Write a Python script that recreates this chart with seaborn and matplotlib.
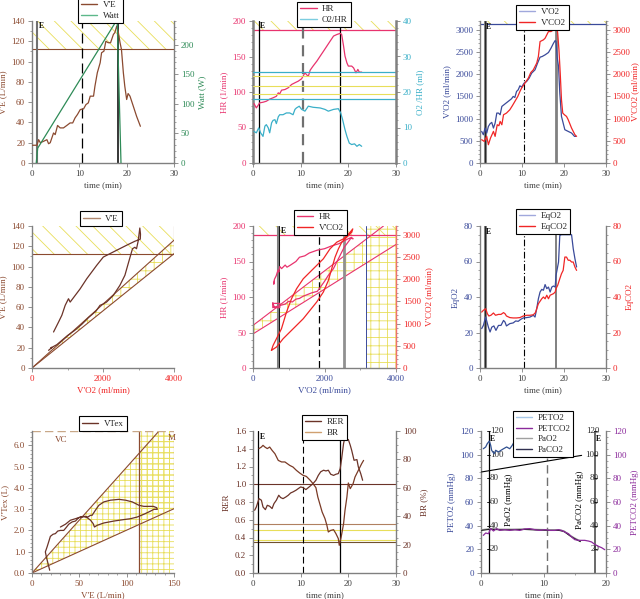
import matplotlib
matplotlib.use("Agg")
import matplotlib.pyplot as plt
import seaborn as sns
from matplotlib.lines import Line2D
from matplotlib.ticker import MultipleLocator, FormatStrFormatter

# ---------------- data ----------------
# Panel 1: V'E and Watt vs time
p1_time = [0.1, 1.05, 1.4, 1.75, 2.45, 3.15, 3.5, 3.85, 4.55, 4.9, 5.4, 5.95, 6.65, 7.35, 8.05, 8.6, 9.1, 9.6,
           10.2, 10.9, 11.4, 11.9, 12.3, 13.0, 13.3, 13.8, 14.4, 14.7, 15.2, 15.6, 16.1, 16.6, 17.2, 17.5,
           17.9, 18.2, 18.6, 18.9, 19.3, 19.6, 20.0, 20.3, 20.7, 21.4, 22.1, 22.9]
p1_ve = [17.5, 17.5, 23, 20, 21.4, 23, 19, 20, 29.6, 28, 37, 34.6, 34.6, 37, 39.5, 39.5, 44.5, 47.8,
         52.7, 53.4, 57.6, 59.3, 65.9, 65.9, 75.8, 89, 98.8, 108.7, 110.3, 120, 118.6, 118.6, 126.8, 128.5,
         135, 130, 118.6, 112, 89, 75.8, 62.6, 68.5, 65.9, 56, 46, 36.2]
watt_time = [0.9, 1.2, 17.8, 18.0, 18.8]
watt = [0, 25, 240, 240, 0]

# Panel 2: HR and O2/HR vs time
p2_time = [0.2, 0.7, 1.05, 1.4, 2.1, 2.8, 3.5, 4.2, 4.9, 5.3, 5.6, 6.0, 6.7, 7.4, 8.1, 8.8, 9.5, 10.2, 10.9,
           11.2, 11.6, 12.0, 12.6, 13.4, 14.1, 14.8, 15.5, 16.2, 16.9, 17.6, 18.3, 18.6, 19.0, 19.3, 19.7,
           20.0, 20.7, 21.1, 21.6, 22.0, 22.3, 22.8]
p2_hr = [83.8, 77.6, 81, 84.7, 85.6, 87, 90, 91.8, 94, 98.8, 97.4, 102.6, 103.5, 106, 110.6, 113, 115.3, 118.6,
         127, 124.7, 122, 130.8, 136.5, 143.5, 150.6, 157.6, 164.7, 171.8, 178.8, 181, 182.6, 181, 164.7,
         150.6, 141, 136.5, 136.5, 134, 127, 131.8, 128, 128]
o2hr_time = [0.2, 0.7, 1.2, 1.6, 2.1, 2.5, 2.8, 3.2, 3.5, 3.9, 4.2, 4.6, 4.9, 5.3, 5.6, 6.3, 7.0, 7.7, 8.4,
             8.8, 9.1, 9.7, 10.2, 10.9, 11.6, 12.6, 14.1, 15.1, 15.8, 16.9, 17.9, 18.4, 18.8, 19.3, 19.7,
             20.2, 20.7, 21.3, 21.8, 22.3, 22.8]
o2hr = [8.9, 8.5, 9.9, 8.5, 7.5, 10.4, 10.8, 9.9, 8.5, 11.3, 12, 12.2, 11.1, 13, 13.6, 13.6, 14.1, 14.1, 13.6,
        15.1, 15.5, 16, 15.1, 14.6, 16, 15.7, 15.5, 15.1, 14.6, 15.1, 15.3, 14.1, 12.2, 9.4, 7.5,
        5.6, 5.2, 5.4, 4.7, 5.2, 4.7]

# Panel 3: V'O2 and V'CO2 vs time
vo2_time = [0.4, 0.8, 1.2, 1.6, 2.0, 2.4, 2.8, 3.2, 3.6, 4.0, 4.4, 4.8, 5.2, 6.0, 6.7, 7.5, 7.9, 8.3, 8.7, 9.1,
            9.5, 9.9, 10.5, 11.1, 11.7, 12.3, 13.1, 13.7, 14.3, 14.8, 15.5, 16.3, 16.9, 17.5, 17.9, 18.1,
            18.4, 18.7, 19.0, 19.4, 19.8, 20.2, 21.0, 21.8, 22.5, 22.8]
vo2 = [712, 637, 787, 675, 825, 885, 915, 787, 900, 1125, 1125, 1087, 1275, 1335, 1387, 1447, 1500, 1477, 1612,
       1650, 1740, 1710, 1800, 1837, 1912, 2025, 2100, 2250, 2385, 2400, 2437, 2490, 2587, 2700, 2760, 2737,
       2362, 2175, 1575, 1050, 900, 750, 712, 675, 600, 600]
vco2_time = [0.4, 1.0, 1.6, 2.0, 2.5, 3.2, 3.6, 4.1, 4.5, 4.8, 5.2, 5.6, 6.3, 7.1, 7.7, 8.3, 9.0, 9.5, 9.9,
             10.7, 11.5, 12.1, 12.7, 13.5, 13.9, 14.3, 15.1, 15.5, 15.9, 16.3, 16.9, 17.5, 17.9, 18.2, 18.5,
             18.8, 19.1, 19.4, 19.7, 20.1, 20.6, 21.0, 21.8, 22.6, 23.0]
vco2 = [525, 487, 600, 412, 562, 712, 600, 862, 840, 937, 862, 1087, 1125, 1200, 1290, 1387, 1500, 1612, 1687,
        1800, 1912, 2040, 2100, 2250, 2400, 2737, 2775, 2812, 2887, 2962, 2962, 3000, 3112, 3150, 2925,
        2550, 2025, 1425, 1125, 1087, 1050, 975, 787, 637, 600]

# Panel 4: V'E vs V'O2 (loop)
p4_vo2 = [467, 520, 560, 530, 620, 700, 800, 1000, 1200, 1400, 1600, 1800, 1916, 2000, 2100, 2290, 2476, 2617,
          2710, 2804, 2832, 2897, 2944, 2990, 3037, 3056, 3050, 2900, 2664, 2290, 2009, 1822, 1542, 1355,
          1075, 1028, 935, 841, 748, 607]
p4_ve = [17.4, 19, 20.5, 19.5, 21.5, 23, 26, 32, 37, 43, 50, 56, 61.8, 63, 65, 71.6, 81.5, 91.4,
         102.9, 114.4, 117.6, 119, 117.6, 125, 138, 132, 127, 125, 121, 114.4, 109.4, 101.2, 88, 78,
         65, 68.3, 61.8, 52, 45.3, 35.5]

# Panel 5: HR and V'CO2 vs V'O2
p5_hr_vo2 = [553, 600, 750, 750, 553, 553, 750, 900, 1000, 1100, 1200, 1300, 1400, 1500, 1650, 1800, 1900,
             2000, 2100, 2250, 2400, 2550, 2700, 2750, 2800, 2700, 2400, 2200, 2000, 1800, 1575, 1450, 1300,
             1200, 1050, 950, 900, 800, 750, 720, 700, 650, 600, 580, 600]
p5_hr = [92, 85, 85, 91, 91, 85, 88, 90, 94, 93, 97, 98, 101, 103, 106, 108, 115,
         122, 130, 140, 155, 170, 180, 184, 182, 183, 175, 172, 168, 166, 162, 158, 156,
         150, 145, 142, 145, 140, 143, 135, 138, 130, 125, 118, 123]
p5_co2_vo2 = [515, 656, 843, 1030, 1218, 1405, 1592, 1780, 1967, 2108, 2201, 2295, 2389, 2482, 2623, 2763,
              2791, 2717, 2529, 2342, 2154, 1967, 1780, 1592, 1405, 1218, 1077, 937, 796, 656, 562, 515]
p5_co2 = [397, 472, 660, 810, 960, 1110, 1297, 1485, 1710, 1972, 2235, 2497, 2685, 2835, 2947, 3060,
          3135, 3060, 2910, 2835, 2685, 2460, 2310, 2160, 2010, 1785, 1560, 1260, 885, 660, 510, 397]

# Panel 6: EqO2 and EqCO2 vs time
eqo2_time = [0.4, 0.8, 1.35, 2.0, 2.4, 2.8, 3.3, 3.8, 4.4, 5.0, 5.6, 5.95, 6.3, 7.1, 7.9, 8.5, 9.1, 9.7, 10.3,
             11.1, 11.9, 12.7, 13.1, 13.5, 13.9, 14.3, 14.7, 15.1, 15.5, 15.9, 16.3, 16.7, 17.1, 17.5, 17.9,
             18.1, 18.7, 19.0, 19.4, 20.2, 21.4, 21.8, 22.2, 22.6, 23.0]
eqo2 = [22.2, 24, 28.7, 23, 20.3, 23, 23.7, 21.2, 24, 24, 26.8, 25.9, 23.7, 25, 25.4, 26.5, 26.3, 27.4, 28.2,
        28.4, 28.7, 29.7, 28.7, 33.4, 39, 42.8, 44.3, 43.8, 47, 44.7, 45.6, 42.8, 45.6, 46.2, 45.6,
        52.2, 59.7, 74.7, 75.1, 75.1, 75.1, 75.1, 67.2, 61.6, 56.9]
eqco2_time = [0.4, 0.8, 1.35, 1.75, 2.1, 2.6, 3.2, 3.7, 4.4, 5.0, 5.6, 5.95, 6.3, 7.1, 7.9, 8.7, 9.5, 10.3,
              11.1, 11.9, 12.7, 13.2, 13.9, 14.7, 15.1, 15.5, 15.9, 16.3, 16.7, 17.5, 17.9, 18.1, 18.5, 19.0,
              19.4, 19.8, 20.2, 20.6, 21.0, 21.4, 21.8, 22.2, 22.6, 23.0]
eqco2 = [31.5, 32.5, 33.4, 30.6, 29.3, 29.7, 31, 29.7, 30.2, 30.2, 31.2, 30.6, 29.3, 28.4, 28.2, 28.2, 28.4, 29.3,
         29.7, 29.7, 30, 31.2, 36.2, 39, 40, 39, 41, 39, 41, 41.9, 42.8, 44.7, 46.6, 50.3,
         53.1, 55, 62.5, 62.5, 60.7, 60.7, 59.7, 59.7, 56.9, 55]

# Panel 7: V'Tex vs V'E (loop)
p7_ve = [18.7, 15.2, 14.1, 15.9, 17.6, 19.4, 22.2, 24.7, 27.2, 30, 33.5, 36, 38.8, 42.4, 45.9, 49.4, 52.9,
         56.5, 59, 61.8, 63.5, 67, 70.6, 75.9, 82.9, 91.8, 98.8, 105.9, 113, 118.2, 123.5, 128.1, 131.7,
         132.4, 128.8, 123.5, 118.2, 111.2, 104.1, 97, 86.5, 75.9, 68.8, 66, 64.6, 61.8, 58.2, 54.7, 51.2,
         45.9, 40.6, 35.3, 30]
p7_vt = [0.13, 0.75, 0.99, 1.22, 1.46, 1.72, 1.82, 1.85, 1.97, 2.0, 2.0, 2.13, 2.29, 2.4, 2.44, 2.6, 2.63,
         2.66, 2.63, 2.71, 2.71, 2.95, 3.18, 3.34, 3.42, 3.46, 3.42, 3.34, 3.18, 3.13, 3.13, 3.13, 3.07,
         2.99, 2.99, 2.87, 2.76, 2.63, 2.55, 2.51, 2.44, 2.35, 2.24, 2.16, 2.32, 2.48, 2.6, 2.66, 2.63,
         2.55, 2.48, 2.29, 2.16]

# Panel 8: RER and BR vs time
rer_time = [0.35, 0.7, 1.26, 1.76, 2.1, 2.6, 3.0, 3.5, 4.0, 4.4, 4.9, 5.4, 5.8, 6.3, 6.9, 7.4, 7.9, 8.4, 9.0,
            9.5, 10.0, 10.5, 11.1, 11.6, 12.2, 12.6, 13.2, 13.7, 14.2, 14.8, 15.3, 15.8, 16.3, 16.9, 17.4,
            17.9, 18.3, 18.6, 19.0, 19.3, 19.7, 20.0, 20.4, 20.7, 21.2, 21.8, 22.1, 22.6, 23.0]
rer = [0.707, 0.744, 0.838, 0.82, 0.744, 0.714, 0.763, 0.752, 0.726, 0.782, 0.82, 0.876, 0.85, 0.838, 0.857,
       0.876, 0.902, 0.914, 0.932, 0.951, 0.97, 0.962, 0.94, 0.962, 0.989, 1.008, 1.045, 1.1, 1.14, 1.158,
       1.15, 1.158, 1.113, 1.1, 1.113, 1.12, 1.177, 1.29, 1.459, 1.534, 1.496, 1.504, 1.44, 1.383, 1.27,
       1.278, 1.195, 1.12, 1.045]
br_time = [1.26, 1.76, 2.1, 2.5, 3.0, 3.5, 4.0, 4.6, 5.3, 6.0, 6.7, 7.2, 7.7, 8.4, 9.1, 9.8, 10.5, 11.2, 12.0,
           12.6, 13.2, 13.6, 14.1, 14.5, 15.1, 15.5, 15.8, 16.3, 16.9, 17.4, 17.9, 18.1, 18.5, 19.0, 19.3,
           19.7, 20.0, 20.4, 21.0, 21.4, 22.1, 22.8, 23.2]
br = [87.6, 88.7, 89.9, 88.7, 87.6, 88.7, 86.4, 84, 79.3, 78.2, 78.2, 77, 75.8, 74.6, 72.3, 70.4, 68.8, 68, 65.3,
      62.9, 60.1, 53.5, 47.7, 43, 38.3, 33.6, 28.9, 30, 30.5, 27.7, 24.2, 19.5, 25.4, 34.7, 44.1,
      53.5, 63.4, 59.4, 62.9, 67.6, 72.3, 77, 79.3]

# Panel 9: end-tidal and arterial gases vs time
peto2_time = [0.37, 0.75, 1.0, 1.33, 1.55, 1.7, 2.1, 2.35, 2.8, 3.2, 3.6, 4.1, 4.6, 5.0, 5.3, 5.7, 6.5, 8.0,
              9.5, 11.0, 12.5, 13.4, 13.8]
peto2 = [105, 106.5, 109.3, 111.5, 107.9, 103.7, 100.8, 103.7, 102.3, 103.7, 105, 106.5, 105, 107.9, 110.7,
         107.9, 109, 110, 108, 110, 109, 110.7, 108]
petco2_time = [0.37, 0.75, 1.2, 1.55, 2.0, 2.5, 3.0, 3.8, 4.6, 5.4, 6.2, 7.0, 7.8, 8.6, 9.4, 10.2, 11.0,
               11.8, 12.4, 12.9, 13.4, 14.0, 14.5, 15.0, 15.6, 16.1, 16.6, 17.2, 17.7, 18.2, 18.8, 19.3, 19.8]
petco2 = [31.8, 33.8, 33.2, 37.5, 35.5, 37.5, 36, 36.6, 36, 36.6, 36, 37.2, 37.5, 36.6, 36, 36.6, 36,
          36, 36.6, 36, 34.6, 33.2, 30.4, 28.2, 27.6, 27.6, 27.6, 27, 26.2, 24.2, 22.5, 21.4, 19.7]
pao2_time = [0.1, 1.5, 3.0, 5.0, 7.0, 9.0, 11.0, 12.5, 13.3, 14.2, 15.0, 15.9]
pao2 = [36.5, 37.5, 37, 37, 37.3, 36.8, 36.5, 36.5, 35.5, 32, 29.5, 27]
paco2_time = [0.1, 1.5, 3.0, 5.0, 7.0, 9.0, 11.0, 12.5, 13.3, 14.2, 15.0, 15.9]
paco2 = [36, 37, 36.5, 36.5, 36.8, 36.3, 36, 36, 35, 31.5, 29, 26.5]
trend_time = [0.1, 16.1]
trend = [85.4, 99.4]

# ---------------- style ----------------
sns.set_theme(style="ticks")
plt.rcParams['font.family'] = ['Liberation Serif', 'DejaVu Serif']
plt.rcParams['hatch.linewidth'] = 0.6
FS = 6.5
YEL = '#E8DE5A'
GRAY = '#808080'

BROWN = '#8B4A30'
GREEN = '#2E8B57'
PINK = '#E8336E'
TEAL = '#3AAFC8'
BLUE = '#3A4A9A'
RED = '#F02626'
DBROWN = '#6B3328'
PURPLE = '#8B2A9B'

fig = plt.figure(figsize=(6.4, 5.99), dpi=100)
W, H = 640.0, 599.0


def axes_px(left, top, right, bottom):
    return fig.add_axes([left / W, 1 - bottom / H, (right - left) / W, (bottom - top) / H])


def line(ax, x, y, color, lw=0.9, ls='-', z=3):
    sns.lineplot(x=x, y=y, ax=ax, color=color, lw=lw, linestyle=ls, sort=False,
                 estimator=None, zorder=z, legend=False)


def style(ax, xlim, ylim, xmaj, ymaj, ymin, ycol, xcol='#404040', xmin=None, yfmt=None):
    ax.set_xlim(xlim)
    ax.set_ylim(ylim)
    ax.xaxis.set_major_locator(MultipleLocator(xmaj))
    if xmin:
        ax.xaxis.set_minor_locator(MultipleLocator(xmin))
    ax.yaxis.set_major_locator(MultipleLocator(ymaj))
    ax.yaxis.set_minor_locator(MultipleLocator(ymin))
    if yfmt:
        ax.yaxis.set_major_formatter(FormatStrFormatter(yfmt))
    for s in ['top', 'right']:
        ax.spines[s].set_visible(False)
    for s in ['left', 'bottom']:
        ax.spines[s].set_color(GRAY)
        ax.spines[s].set_linewidth(1.0)
    ax.tick_params(which='major', length=3, width=0.6, color=GRAY, labelsize=FS, pad=2)
    ax.tick_params(which='minor', length=1.5, width=0.5, color=GRAY)
    ax.tick_params(axis='y', labelcolor=ycol)
    ax.tick_params(axis='x', labelcolor=xcol)
    ax.set_xlabel('')
    ax.set_ylabel('')
    ax.patch.set_alpha(0)


def twin(ax, ylim, ymaj, ymin, col, label, lpad=3, tpad=2):
    a2 = ax.twinx()
    a2.set_ylim(ylim)
    a2.yaxis.set_major_locator(MultipleLocator(ymaj))
    a2.yaxis.set_minor_locator(MultipleLocator(ymin))
    for s in ['top', 'left', 'bottom']:
        a2.spines[s].set_visible(False)
    a2.spines['right'].set_color(GRAY)
    a2.spines['right'].set_linewidth(1.0)
    a2.tick_params(which='major', length=3, width=0.6, color=GRAY, labelsize=FS, pad=tpad, labelcolor=col)
    a2.tick_params(which='minor', length=1.5, width=0.5, color=GRAY)
    a2.set_ylabel(label, fontsize=FS, color=col, labelpad=lpad)
    return a2


def legend(ax, items, xc, yb):
    handles = [Line2D([], [], color=c, lw=1.0) for _, c in items]
    leg = ax.legend(handles, [l for l, _ in items], loc='lower center', bbox_to_anchor=(xc, yb),
                    frameon=True, fancybox=False, fontsize=FS, handlelength=1.8, handletextpad=0.6,
                    borderpad=0.35, labelspacing=0.25, borderaxespad=0)
    fr = leg.get_frame()
    fr.set_edgecolor('black')
    fr.set_linewidth(0.8)
    fr.set_facecolor('white')
    fr.set_alpha(1)
    leg.set_zorder(30)


def labels(ax, xl, yl, xcol='#404040', ycol='#404040'):
    ax.set_xlabel(xl, fontsize=FS, color=xcol, labelpad=2)
    ax.set_ylabel(yl, fontsize=FS, color=ycol, labelpad=3)


def emark(ax, x, y):
    ax.text(x, y, 'E', fontsize=5.5, fontweight='bold', color='black', va='top', ha='left', zorder=8)


# ---------------- panel 1 ----------------
ax = axes_px(32, 21, 174, 163)
style(ax, (0, 30), (0, 140), 10, 20, 10, BROWN)
ax.fill_between([0, 30], 112.5, 140, facecolor='none', edgecolor=YEL, hatch='\\\\', linewidth=0, zorder=1)
ax.axhline(112.5, color=BROWN, lw=0.8, zorder=2)
ax.axvline(1.0, color='#707070', lw=1.5, zorder=2)
ax.axvline(10.5, color='black', lw=0.9, ls=(0, (8, 4)), zorder=2)
ax.axvline(18.2, color='black', lw=1.1, zorder=2)
line(ax, p1_time, p1_ve, BROWN)
emark(ax, 1.4, 139)
labels(ax, 'time (min)', "V'E (L/min)", ycol=BROWN)
a2 = twin(ax, (0, 240), 50, 10, GREEN, 'Watt (W)')
line(a2, watt_time, watt, GREEN)
legend(a2, [("V'E", BROWN), ('Watt', '#5DB88A')], 0.482, 0.986)

# ---------------- panel 2 ----------------
ax = axes_px(253, 21, 396, 163)
style(ax, (0, 30), (0, 200), 10, 50, 10, PINK)
ax.spines['left'].set_linewidth(1.8)
ax.fill_between([0, 30], 187, 200, facecolor='none', edgecolor=YEL, hatch='\\\\', linewidth=0, zorder=1)
ax.axhline(187, color=PINK, lw=0.9, zorder=2)
ax.axvline(1.2, color='black', lw=0.9, zorder=2)
ax.axvline(10.5, color='#707070', lw=1.6, ls=(0, (5, 3)), zorder=2)
ax.axvline(18.2, color='black', lw=0.9, zorder=2)
line(ax, p2_time, p2_hr, PINK)
emark(ax, 1.5, 198)
labels(ax, 'time (min)', 'HR (1/min)', ycol=PINK)
a2 = twin(ax, (0, 40), 10, 2, TEAL, 'O2 /HR (ml)')
a2.spines['right'].set_linewidth(1.8)
for yv in [24.6, 21.8, 19.4]:
    a2.axhline(yv, color=YEL, lw=0.8, zorder=1)
for yv in [25.7, 18.0]:
    a2.axhline(yv, color=TEAL, lw=0.9, zorder=2)
line(a2, o2hr_time, o2hr, TEAL)
legend(a2, [('HR', PINK), ('O2/HR', '#7CCDE0')], 0.497, 0.958)

# ---------------- panel 3 ----------------
ax = axes_px(480, 21, 606, 163)
style(ax, (0, 30), (0, 3200), 10, 500, 100, BLUE)
ax.fill_between([0, 30], 3130, 3200, facecolor='none', edgecolor=YEL, hatch='\\\\', linewidth=0, zorder=1)
ax.axhline(3130, color=BLUE, lw=0.9, zorder=2)
ax.axvline(1.1, color='#808080', lw=2.2, zorder=2)
ax.axvline(1.1, color='black', lw=0.5, zorder=2)
ax.axvline(10.5, color='black', lw=0.8, ls=(0, (6, 2, 1, 2)), zorder=2)
ax.axvline(18.2, color='#808080', lw=2.0, zorder=2)
line(ax, vo2_time, vo2, BLUE)
emark(ax, 1.5, 3150)
labels(ax, 'time (min)', "V'O2 (ml/min)", ycol=BLUE)
a2 = twin(ax, (0, 3200), 500, 100, RED, "V'CO2 (ml/min)", lpad=0.5, tpad=1.5)
line(a2, vco2_time, vco2, RED)
legend(a2, [("V'O2", '#A0A8DC'), ("V'CO2", RED)], 0.496, 0.937)

# ---------------- panel 4 ----------------
ax = axes_px(32, 226, 174, 368)
style(ax, (0, 4000), (0, 140), 2000, 20, 10, BROWN, xcol=RED, xmin=1000)
ax.fill_between([0, 4000], 112.7, 140, facecolor='none', edgecolor=YEL, hatch='\\\\', linewidth=0, zorder=1)
ax.fill_between([0, 4000], [0, 112.7], [0, 126], facecolor='none', edgecolor=YEL, hatch='++', linewidth=0,
                zorder=1)
ax.plot([0, 4000], [0, 126], color=BROWN, lw=0.8, zorder=2)
ax.plot([0, 4000], [0, 112.7], color=BROWN, lw=0.8, zorder=2)
ax.plot([0, 4000], [112.7, 112.7], color=BROWN, lw=0.8, zorder=2)
ax.plot([4000, 4000], [112.7, 140], color=BROWN, lw=0.8, zorder=2)
line(ax, p4_vo2, p4_ve, DBROWN)
labels(ax, "V'O2 (ml/min)", "V'E (L/min)", xcol=RED, ycol=BROWN)
legend(ax, [("V'E", '#B08870')], 0.486, 1.0)

# ---------------- panel 5 ----------------
ax = axes_px(253, 226, 396, 368)
style(ax, (0, 4000), (0, 200), 2000, 50, 10, PINK, xcol=BLUE, xmin=1000)
ax.fill_between([0, 4000], 187, 200, facecolor='none', edgecolor=YEL, hatch='\\\\', linewidth=0, zorder=1)
ax.fill_between([3150, 4000], 0, 200, facecolor='none', edgecolor=YEL, hatch='++', linewidth=0, zorder=1)
ax.fill_between([0, 3150], [48, 48 + 0.0315 * 3150], [60, 60 + 0.0384 * 3150], facecolor='none',
                edgecolor=YEL, hatch='++', linewidth=0, zorder=1)
ax.plot([0, 3650], [60, 200], color=PINK, lw=0.8, zorder=2)
ax.plot([0, 4000], [48, 174], color=PINK, lw=0.8, zorder=2)
ax.axhline(187, color=PINK, lw=0.9, zorder=2)
ax.axvline(703, color='#808080', lw=2.2, zorder=2)
ax.axvline(735, color='black', lw=0.6, zorder=2)
ax.axvline(1855, color='black', lw=0.9, ls=(0, (6, 3)), zorder=2)
ax.axvline(2548, color='#909090', lw=2.0, zorder=2)
ax.axvline(3150, color=BLUE, lw=0.7, zorder=2)
line(ax, p5_hr_vo2, p5_hr, PINK)
emark(ax, 780, 198)
labels(ax, "V'O2 (ml/min)", 'HR (1/min)', xcol=BLUE, ycol=PINK)
a2 = twin(ax, (0, 3200), 500, 100, RED, "V'CO2 (ml/min)")
a2.spines['right'].set_color('#F07070')
line(a2, p5_co2_vo2, p5_co2, RED)
legend(a2, [('HR', PINK), ("V'CO2", RED)], 0.472, 0.937)

# ---------------- panel 6 ----------------
ax = axes_px(480, 226, 606, 368)
style(ax, (0, 30), (0, 80), 10, 20, 5, BLUE)
ax.axvline(1.1, color='#808080', lw=2.2, zorder=2)
ax.axvline(1.1, color='black', lw=0.5, zorder=2)
ax.axvline(10.5, color='black', lw=0.8, ls=(0, (6, 2, 1, 2)), zorder=2)
ax.axvline(18.1, color='#808080', lw=1.4, zorder=2)
line(ax, eqo2_time, eqo2, BLUE)
emark(ax, 1.5, 79)
labels(ax, 'time (min)', 'EqO2', ycol=BLUE)
a2 = twin(ax, (0, 80), 20, 5, RED, 'EqCO2')
line(a2, eqco2_time, eqco2, RED)
legend(a2, [('EqO2', '#A0A8DC'), ('EqCO2', RED)], 0.5, 0.944)

# ---------------- panel 7 ----------------
ax = axes_px(32, 431, 174, 573)
style(ax, (0, 150), (0, 6.67), 50, 1.0, 0.2, BROWN, xcol=BROWN, xmin=10, yfmt='%.1f')
ax.fill_between([0, 134.2, 150], [0, 0.0201 * 134.2, 3.02], [0, 6.67, 6.67], facecolor='none', edgecolor=YEL,
                hatch='+++', linewidth=0, zorder=1)
ax.fill_between([112.5, 150], 0, 6.67, facecolor='none', edgecolor=YEL, hatch='+++', linewidth=0, zorder=1)
ax.plot([0, 134.2], [0, 6.67], color=BROWN, lw=0.8, zorder=2)
ax.plot([0, 150], [0, 3.02], color=BROWN, lw=0.8, zorder=2)
ax.plot([150, 150], [3.02, 6.67], color=BROWN, lw=0.8, zorder=2)
ax.axvline(112.5, color=BROWN, lw=0.9, zorder=2)
ax.axhline(6.65, color='#C8A888', lw=1.0, ls=(0, (6, 3)), zorder=2)
ax.text(24, 6.45, 'VC', fontsize=FS, color=BROWN, va='top', ha='left')
ax.text(143, 6.55, 'M', fontsize=FS, color=BROWN, va='top', ha='left')
line(ax, p7_ve, p7_vt, DBROWN)
labels(ax, "V'E (L/min)", "V'Tex (L)", xcol=BROWN, ycol=BROWN)
legend(ax, [('VTex', DBROWN)], 0.5, 1.0)

# ---------------- panel 8 ----------------
ax = axes_px(253, 431, 396, 573)
style(ax, (0, 30), (0, 1.6), 10, 0.2, 0.1, DBROWN, yfmt='%.1f')
ax.axhline(1.0, color=DBROWN, lw=0.8, zorder=2)
ax.axhline(0.55, color='#B08060', lw=0.8, zorder=2)
ax.axhline(0.48, color=YEL, lw=0.8, zorder=2)
ax.axhline(0.375, color=YEL, lw=0.8, zorder=2)
ax.axhline(0.35, color='#705030', lw=0.8, zorder=2)
ax.axvline(1.1, color='black', lw=0.9, zorder=2)
ax.axvline(10.5, color='black', lw=0.8, ls=(0, (6, 3)), zorder=2)
ax.axvline(18.2, color='black', lw=0.9, zorder=2)
line(ax, rer_time, rer, DBROWN)
emark(ax, 1.5, 1.58)
labels(ax, 'time (min)', 'RER', ycol=DBROWN)
a2 = twin(ax, (0, 100), 20, 5, DBROWN, 'BR (%)')
line(a2, br_time, br, '#7A3A26')
legend(a2, [('RER', DBROWN), ('BR', '#D0A070')], 0.5, 0.937)

# ---------------- panel 9 ----------------
ax = axes_px(481, 431, 606, 573)
style(ax, (0, 20), (0, 120), 10, 20, 5, BLUE, xmin=5)
ax.axvline(1.2, color='black', lw=0.9, zorder=2)
ax.axvline(18.3, color='#505050', lw=1.2, zorder=2)
ax.plot([10.5, 10.5], [0, 97], color='#707070', lw=1.0, ls=(0, (6, 3)), zorder=2)
for yv in range(20, 121, 20):
    ax.plot([1.0, 1.4], [yv, yv], color='black', lw=0.6, zorder=2)
    ax.plot([18.1, 18.5], [yv, yv], color='black', lw=0.6, zorder=2)
    ax.text(1.4, yv, str(yv), fontsize=FS, color='#303030', va='center', ha='left', zorder=3)
    ax.text(18.9, yv, str(yv), fontsize=FS, color='#303030', va='center', ha='right', zorder=3)
ax.text(4.5, 62, 'PaO2 (mmHg)', fontsize=FS, color='black', rotation=90, va='center', ha='center')
ax.text(15.9, 62, 'PaCO2 (mmHg)', fontsize=FS, color='black', rotation=90, va='center', ha='center')
emark(ax, 1.4, 117)
emark(ax, 18.4, 117)
line(ax, peto2_time, peto2, '#2F4F8F')
line(ax, trend_time, trend, 'black', lw=0.8)
line(ax, pao2_time, pao2, '#A0A0A0', lw=1.0)
line(ax, paco2_time, paco2, '#202020', lw=0.8)
labels(ax, 'time (min)', 'PETO2 (mmHg)', ycol=BLUE)
a2 = twin(ax, (0, 120), 20, 5, PURPLE, 'PETCO2 (mmHg)')
line(a2, petco2_time, petco2, PURPLE)
legend(a2, [('PETO2', '#A8C8E8'), ('PETCO2', PURPLE), ('PaO2', '#A0A0A0'), ('PaCO2', '#303050')],
       0.496, 0.817)

fig.savefig('out.png', dpi=100)
